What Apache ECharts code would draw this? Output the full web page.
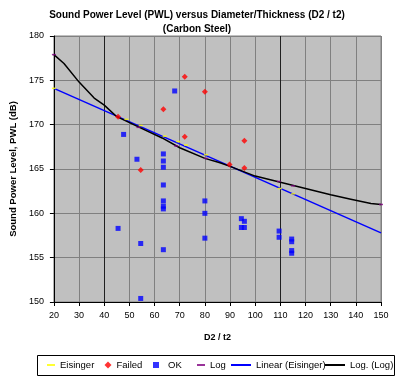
<!DOCTYPE html>
<html>
<head>
<meta charset="utf-8">
<script src="https://cdn.jsdelivr.net/npm/echarts@6/dist/echarts.min.js"></script>
<style>
  html, body { margin: 0; padding: 0; background: #fff; }
  #chart { width: 400px; height: 377px; }
</style>
</head>
<body>
<div id="chart"></div>
<script>
// values
const xTicks = [20, 30, 40, 50, 60, 70, 80, 90, 100, 110, 120, 130, 140, 150];

const eisingerX = [20, 48.8, 54.5, 64, 69.4, 72.5, 80.4, 109.8, 115.1];
const eisingerY = [174.1, 170.6, 169.9, 168.7, 168.1, 167.7, 166.6, 162.8, 162.2];

const failedX = [72, 80, 63.5, 45.5, 72, 54.5, 95.7, 95.7, 89.8];
const failedY = [175.4, 173.7, 171.75, 170.9, 168.65, 164.9, 168.2, 165.1, 165.5];

const okX = [68, 47.7, 53, 63.5, 63.5, 63.5, 63.5, 63.5, 63.5, 63.5, 80, 80, 80, 45.5, 54.5, 63.5, 54.5,
  94.5, 95.7, 94.5, 95.7, 109.5, 109.5, 114.5, 114.5, 114.5, 114.5];
const okY = [173.8, 168.9, 166.1, 166.7, 165.9, 165.2, 163.2, 161.4, 160.8, 160.5, 161.4, 160.0, 157.2, 158.3, 156.6, 155.9, 150.4,
  159.4, 159.1, 158.4, 158.4, 158.0, 157.3, 157.1, 156.8, 155.8, 155.5];

const logX = [20, 53.6, 68.6, 80.4, 109.4, 115, 150];
const logY = [177.9, 169.7, 167.6, 166.2, 163.6, 163.1, 161.0];

// trend lines as drawn in the picture
const linTrendX = [20, 150];
const linTrendY = [174.1, 157.8];

const logTrendX = [20, 24, 30, 36, 40, 45, 54, 63, 70, 80, 86, 90, 100, 110, 120, 130, 138, 146, 150];
const logTrendY = [177.9, 176.9, 174.8, 173.0, 172.2, 170.9, 169.7, 168.5, 167.4, 166.2, 165.7, 165.3, 164.2, 163.5, 162.8, 162.1, 161.6, 161.1, 161.0];

const pairs = (xs, ys) => xs.map((x, i) => [x, ys[i]]);

const FONT = 'Liberation Sans, Arial, sans-serif';
const chart = echarts.init(document.getElementById('chart'));

// the x grid lines at 40 and 110 look darker in the picture
const xSplitColors = xTicks.map(v => (v === 40 || v === 110) ? '#202020' : '#808080');

// one legend per entry so each can sit where Excel put it
function legendItem(item, left, w, h, keep) {
  return {
    data: [item],
    left: left,
    top: 360,
    padding: 0,
    itemWidth: w,
    itemHeight: h,
    symbolKeepAspect: keep,
    selectedMode: false,
    textStyle: { fontFamily: FONT, fontSize: 9.5, color: '#000' }
  };
}

const option = {
  animation: false,
  backgroundColor: '#ffffff',
  title: {
    text: 'Sound Power Level (PWL) versus Diameter/Thickness (D2 / t2)\n(Carbon Steel)',
    left: 197,
    textAlign: 'center',
    top: 8,
    padding: 0,
    textStyle: { fontFamily: FONT, fontSize: 10, fontWeight: 'bold', color: '#000', lineHeight: 14 }
  },
  graphic: [{
    type: 'rect',
    z: 0,
    shape: { x: 37.5, y: 355.5, width: 357, height: 20 },
    style: { fill: '#ffffff', stroke: '#000000', lineWidth: 1 }
  }],
  legend: [
    legendItem('Eisinger', 47, 8, 2, false),
    legendItem('Failed', 104.5, 7, 7, true),
    legendItem({ name: 'OK', icon: 'path://M0 0H10V10H0Z' }, 153, 14, 6, true),
    legendItem('Log', 197, 8, 2, false),
    legendItem('Linear (Eisinger)', 230, 20, 2, false),
    legendItem('Log. (Log)', 324, 20, 2, false)
  ],
  grid: {
    left: 49, right: 19, top: 36, bottom: 75,
    show: true,
    backgroundColor: '#C0C0C0',
    borderColor: '#808080',
    borderWidth: 1
  },
  xAxis: {
    type: 'value',
    min: 20, max: 150, interval: 10,
    name: 'D2 / t2',
    nameLocation: 'middle',
    nameGap: 31,
    nameTextStyle: { fontFamily: FONT, fontSize: 9, fontWeight: 'bold', color: '#000' },
    axisLine: { onZero: false, lineStyle: { color: '#000', width: 1 } },
    axisTick: { inside: false, length: 4, lineStyle: { color: '#000' } },
    axisLabel: { margin: 9, fontFamily: FONT, fontSize: 9, color: '#000' },
    splitLine: { show: true, lineStyle: { color: xSplitColors, width: 1 } }
  },
  yAxis: {
    type: 'value',
    min: 150, max: 180, interval: 5,
    name: 'Sound Power Level, PWL (dB)',
    nameLocation: 'middle',
    nameGap: 34,
    nameTextStyle: { fontFamily: FONT, fontSize: 9.5, fontWeight: 'bold', color: '#000' },
    axisLine: { show: true, onZero: false, lineStyle: { color: '#000', width: 1 } },
    axisTick: { show: true, inside: false, length: 4, lineStyle: { color: '#000' } },
    axisLabel: { margin: 10, fontFamily: FONT, fontSize: 9, color: '#000' },
    splitLine: { show: true, lineStyle: { color: '#808080', width: 1 } }
  },
  series: [
    {
      name: 'Linear (Eisinger)',
      type: 'line',
      data: pairs(linTrendX, linTrendY),
      symbol: 'none',
      lineStyle: { color: '#0000FF', width: 1.5 },
      itemStyle: { color: '#0000FF' },
      z: 3
    },
    {
      name: 'Log. (Log)',
      type: 'line',
      data: pairs(logTrendX, logTrendY),
      symbol: 'none',
      lineStyle: { color: '#000000', width: 1.5 },
      itemStyle: { color: '#000000' },
      z: 3
    },
    {
      name: 'Eisinger',
      type: 'scatter',
      data: pairs(eisingerX, eisingerY),
      symbol: 'rect',
      symbolSize: [4, 1.5],
      itemStyle: { color: '#FFFF00' },
      z: 4
    },
    {
      name: 'Log',
      type: 'scatter',
      data: pairs(logX, logY),
      symbol: 'rect',
      symbolSize: [4, 1.5],
      itemStyle: { color: '#800080' },
      z: 4
    },
    {
      name: 'Failed',
      type: 'scatter',
      data: pairs(failedX, failedY),
      symbol: 'diamond',
      symbolSize: 6,
      itemStyle: { color: '#FF0000' },
      z: 5
    },
    {
      name: 'OK',
      type: 'scatter',
      data: pairs(okX, okY),
      symbol: 'rect',
      symbolSize: 5,
      itemStyle: { color: '#0000FF' },
      z: 5
    }
  ]
};

chart.setOption(option);
</script>
</body>
</html>
